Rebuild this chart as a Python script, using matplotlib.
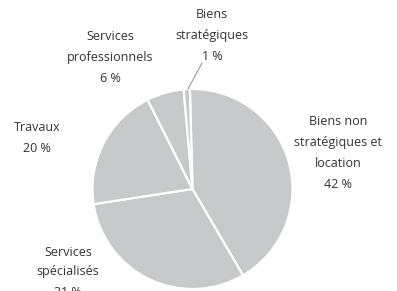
import matplotlib
matplotlib.use("Agg")
import matplotlib.pyplot as plt

categories = ["Biens non\nstratégiques et\nlocation", "Services\nspécialisés", "Travaux",
              "Services\nprofessionnels", "Biens\nstratégiques"]
values = [42, 31, 20, 6, 1]
pct_labels = ["42 %", "31 %", "20 %", "6 %", "1 %"]

plt.rcParams['font.family'] = ['Open Sans', 'DejaVu Sans']

W, H = 397, 291
fig = plt.figure(figsize=(W / 100, H / 100), dpi=100)
cx, cy, r = 192.5, 189, 100
ax = fig.add_axes([(cx - r) / W, (H - cy - r) / H, 2 * r / W, 2 * r / H])

wedges, _ = ax.pie(values, startangle=91.5, counterclock=False, radius=1,
                   colors=["#c8c9cb"] * len(values),
                   wedgeprops=dict(edgecolor="white", linewidth=1.6))
for w in wedges:
    w.set_clip_on(False)
ax.set_xlim(-1, 1)
ax.set_ylim(-1, 1)
ax.axis("off")

# label positions in data units (pie radius = 1)
label_pos = [(1.455, 0.36), (-1.245, -0.83), (-1.555, 0.51), (-0.825, 1.31), (0.195, 1.54)]
spacings = [1.8, 1.7, 1.8, 1.8, 1.8]
for cat, pct, (x, y), ls in zip(categories, pct_labels, label_pos, spacings):
    ax.text(x, y, cat + "\n" + pct, ha="center", va="center", fontsize=9,
            color="#333333", linespacing=ls, clip_on=False)

# leader line for the small slice
ax.plot([0.095, -0.045], [1.26, 1.0], color="#999999", lw=0.8, clip_on=False)

fig.savefig("out.png", dpi=100)
